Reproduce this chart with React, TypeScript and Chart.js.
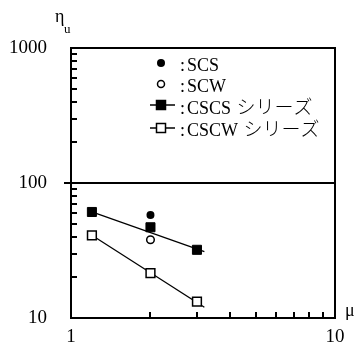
import React, { useEffect, useRef } from "react";
import { Chart, registerables } from "chart.js";

Chart.register(...registerables);

// μ values
const muCSCS = [1.2, 2, 3];
const etaCSCS = [61, 47, 32];
const muCSCW = [1.2, 2, 3];
const etaCSCW = [41, 21.5, 13.2];
const muSCS = [2];
const etaSCS = [58];
const muSCW = [2];
const etaSCW = [38];
// regression lines
const fitMu = [1.2, 3.2];
const fitCSCS = [61, 31];
const fitCSCW = [41, 12];
const refLineEta = 100;

const xTickLabels = [1, 10];
const yTickLabels = [10, 100, 1000];
const minorX = [2, 3, 4, 5, 6, 7, 8, 9];
const minorY = [20, 30, 40, 50, 60, 70, 80, 90, 200, 300, 400, 500, 600, 700, 800, 900];

const legendLabels = ["SCS", "SCW", "CSCS", "CSCW"];
const legendSuffix = ["", "", "シリーズ", "シリーズ"];

const SERIF = "'Liberation Serif', 'Noto Sans CJK JP', serif";
const CJK = "'Noto Sans CJK JP', sans-serif";

const toPts = (xs: number[], ys: number[]) => xs.map((x, i) => ({ x, y: ys[i] }));

const decor = {
  id: "decor",
  afterDatasetsDraw(chart: any) {
    const { ctx, chartArea } = chart;
    const xs = chart.scales.x;
    const ys = chart.scales.y;
    ctx.save();
    ctx.strokeStyle = "#000";
    ctx.lineWidth = 2;
    ctx.strokeRect(chartArea.left, chartArea.top, chartArea.right - chartArea.left, chartArea.bottom - chartArea.top);
    ctx.beginPath();
    minorX.forEach((v) => {
      const px = Math.round(xs.getPixelForValue(v));
      ctx.moveTo(px, chartArea.bottom);
      ctx.lineTo(px, chartArea.bottom - 6);
    });
    minorY.forEach((v) => {
      const py = Math.round(ys.getPixelForValue(v));
      ctx.moveTo(chartArea.left, py);
      ctx.lineTo(chartArea.left + 6, py);
    });
    ctx.stroke();
    const py100 = Math.round(ys.getPixelForValue(refLineEta));
    ctx.beginPath();
    ctx.moveTo(chartArea.left - 7, py100);
    ctx.lineTo(chartArea.right, py100);
    ctx.stroke();

    // legend
    const rowsY = [63, 84, 105, 128];
    const baseY = [70.5, 91.5, 114, 136];
    const mx = 161;
    ctx.fillStyle = "#000";
    ctx.beginPath();
    ctx.arc(mx, rowsY[0], 4, 0, Math.PI * 2);
    ctx.fill();
    ctx.lineWidth = 1.5;
    ctx.beginPath();
    ctx.arc(mx, rowsY[1], 3.5, 0, Math.PI * 2);
    ctx.fillStyle = "#fff";
    ctx.fill();
    ctx.stroke();
    [2, 3].forEach((r) => {
      const y = rowsY[r];
      ctx.lineWidth = 1.5;
      ctx.beginPath();
      ctx.moveTo(150, y);
      ctx.lineTo(175, y);
      ctx.stroke();
      ctx.fillStyle = r === 2 ? "#000" : "#fff";
      ctx.fillRect(mx - 4.5, y - 4.5, 9, 9);
      ctx.strokeRect(mx - 4.5, y - 4.5, 9, 9);
    });
    ctx.fillStyle = "#000";
    ctx.textBaseline = "alphabetic";
    ctx.textAlign = "left";
    legendLabels.forEach((t, i) => {
      ctx.font = "18px " + SERIF;
      ctx.fillText(":", 180, baseY[i]);
      ctx.fillText(t, 187, baseY[i]);
      if (legendSuffix[i]) {
        const w = ctx.measureText(t + " ").width;
        ctx.font = "300 19px " + CJK;
        ctx.fillText(legendSuffix[i], 187 + w + 1, baseY[i]);
      }
    });

    // axis titles
    ctx.font = "18px " + SERIF;
    ctx.fillText("η", 55, 22);
    ctx.font = "13px " + SERIF;
    ctx.fillText("u", 64, 33);
    ctx.font = "18px " + SERIF;
    ctx.fillText("μ", 345, 316);
    ctx.restore();
  },
};

export default function App() {
  const ref = useRef<HTMLCanvasElement | null>(null);
  useEffect(() => {
    if (!ref.current) return;
    const chart = new Chart(ref.current, {
      type: "scatter",
      data: {
        datasets: [
          {
            label: "SCS",
            data: toPts(muSCS, etaSCS),
            pointStyle: "circle",
            pointRadius: 4,
            backgroundColor: "#000",
            borderColor: "#000",
            borderWidth: 0,
          },
          {
            label: "SCW",
            data: toPts(muSCW, etaSCW),
            pointStyle: "circle",
            pointRadius: 3.8,
            backgroundColor: "#fff",
            borderColor: "#000",
            borderWidth: 1.5,
          },
          {
            label: "CSCS",
            data: toPts(muCSCS, etaCSCS),
            pointStyle: "rect",
            pointRadius: 6.4,
            backgroundColor: "#000",
            borderColor: "#000",
            borderWidth: 1,
          },
          {
            label: "CSCW",
            data: toPts(muCSCW, etaCSCW),
            pointStyle: "rect",
            pointRadius: 6.2,
            backgroundColor: "#fff",
            borderColor: "#000",
            borderWidth: 1.5,
          },
          {
            label: "fitCSCS",
            data: toPts(fitMu, fitCSCS),
            showLine: true,
            pointRadius: 0,
            borderColor: "#000",
            borderWidth: 1.3,
          },
          {
            label: "fitCSCW",
            data: toPts(fitMu, fitCSCW),
            showLine: true,
            pointRadius: 0,
            borderColor: "#000",
            borderWidth: 1.3,
          },
        ],
      },
      options: {
        animation: false,
        responsive: false,
        maintainAspectRatio: false,
        layout: { padding: { top: 48, right: 23, left: 0, bottom: 0 } },
        plugins: { legend: { display: false }, tooltip: { enabled: false }, title: { display: false } },
        scales: {
          x: {
            type: "logarithmic",
            min: 1,
            max: 10,
            grid: { display: false, drawTicks: false },
            border: { display: false },
            afterBuildTicks: (s: any) => {
              s.ticks = xTickLabels.map((v) => ({ value: v }));
            },
            afterFit: (s: any) => {
              s.height = 38;
            },
            ticks: {
              autoSkip: false,
              maxRotation: 0,
              padding: 8,
              color: "#000",
              font: { family: SERIF, size: 19 },
              callback: (v: any) => String(v),
            },
          },
          y: {
            type: "logarithmic",
            min: 10,
            max: 1000,
            grid: { display: false, drawTicks: false },
            border: { display: false },
            afterBuildTicks: (s: any) => {
              s.ticks = yTickLabels.map((v) => ({ value: v }));
            },
            afterFit: (s: any) => {
              s.width = 71;
            },
            ticks: {
              autoSkip: false,
              padding: 24,
              color: "#000",
              font: { family: SERIF, size: 19 },
              callback: (v: any) => String(v),
            },
          },
        },
      },
      plugins: [decor],
    });
    return () => chart.destroy();
  }, []);
  return (
    <div style={{ position: "absolute", left: 0, top: 0, width: 358, height: 356, background: "#fff" }}>
      <canvas ref={ref} width={358} height={356} style={{ width: 358, height: 356, display: "block" }} />
    </div>
  );
}
